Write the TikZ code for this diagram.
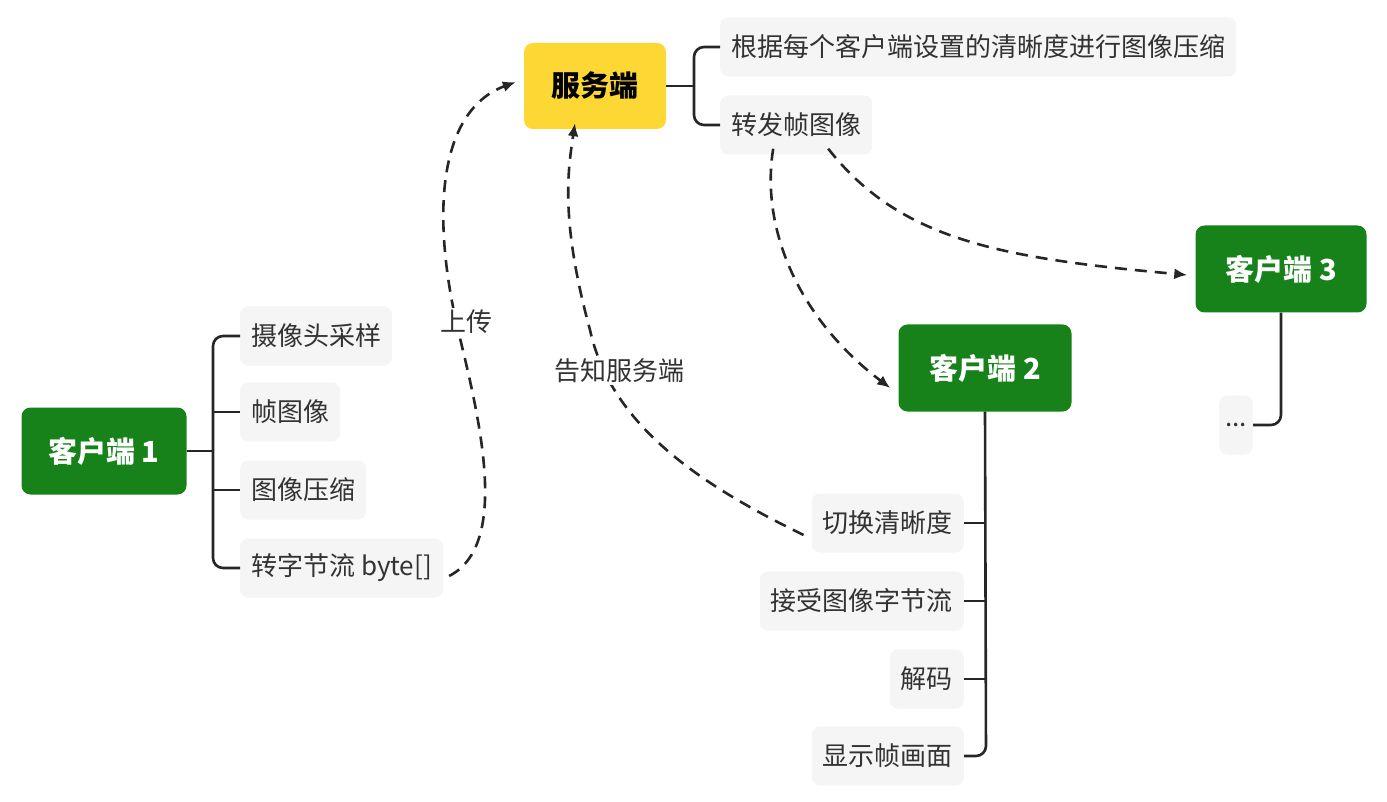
\documentclass[tikz,border=0pt]{standalone}
\usepackage{fontspec}
\setmainfont{Noto Sans CJK SC}
\usetikzlibrary{positioning, arrows.meta, shapes.geometric}
\definecolor{cgreen}{HTML}{17821A}
\definecolor{cyellow}{HTML}{FDD835}
\definecolor{cleaf}{HTML}{F5F5F5}
\definecolor{ctext}{HTML}{333333}
\begin{document}
\begin{tikzpicture}[
    x=1pt, y=-1pt,
    client/.style={rectangle, rounded corners=9pt, fill=cgreen, text=white, font=\fontsize{29}{34}\selectfont\bfseries, minimum width=#1, minimum height=87pt},
    server/.style={rectangle, rounded corners=9pt, fill=cyellow, text=black, font=\fontsize{29}{34}\selectfont\bfseries, minimum width=142pt, minimum height=86pt},
    leaf/.style={rectangle, rounded corners=8pt, fill=cleaf, text=ctext, font=\fontsize{26}{30}\selectfont, minimum height=59pt, inner xsep=11pt},
    branch/.style={line width=2.6pt, draw=black!85, rounded corners=10pt},
    flow/.style={line width=2.6pt, draw=black!85, dashed, dash pattern=on 12pt off 8pt, -{Latex[length=13pt,width=11pt]}},
    note/.style={text=ctext, font=\fontsize{26}{30}\selectfont}
]
\useasboundingbox (0,0) rectangle (1387,802);

% Clients and server
\node[client=165pt] (c1) at (104,451) {客户端 1};
\node[server] (srv) at (595,86) {服务端};
\node[client=173pt] (c2) at (985,368) {客户端 2};
\node[client=171pt] (c3) at (1281,269) {客户端 3};

% Client 1 steps
\node[leaf, anchor=west] (cam) at (240,336) {摄像头采样};
\node[leaf, anchor=west] (frm) at (240,412) {帧图像};
\node[leaf, anchor=west] (cmp) at (240,490) {图像压缩};
\node[leaf, anchor=west] (byt) at (240,568) {转字节流 byte[]};

% Server steps
\node[leaf, anchor=west] (res) at (720,47) {根据每个客户端设置的清晰度进行图像压缩};
\node[leaf, anchor=west] (fwd) at (720,125) {转发帧图像};

% Client 2 steps
\node[leaf, anchor=east] (sw) at (964,523) {切换清晰度};
\node[leaf, anchor=east] (rcv) at (964,601) {接受图像字节流};
\node[leaf, anchor=east] (dec) at (964,679) {解码};
\node[leaf, anchor=east] (shw) at (964,756) {显示帧画面};

% Client 3 steps
\node[leaf, anchor=center, inner xsep=6pt] (etc) at (1236,425) {...};

% Brackets
\draw[branch] (c1.east) -- (213,451);
\draw[branch] (cam.west) -- (213,336) -- (213,568) -- (byt.west);
\draw[branch] (frm.west) -- (213,412);
\draw[branch] (cmp.west) -- (213,490);
\draw[branch] (srv.east) -- (694,86);
\draw[branch] (res.west) -- (694,47) -- (694,125) -- (fwd.west);
\draw[branch] (c2.south) -- (986,756) -- (shw.east);
\draw[branch] (sw.east) -- (986,523);
\draw[branch] (rcv.east) -- (986,601);
\draw[branch] (dec.east) -- (986,679);
\draw[branch] (c3.south) -- (1281,425) -- (etc.east);

% Flows
\draw[flow] ([xshift=6pt,yshift=-8pt]byt.east) .. controls (510,545) and (480,420) .. (458,330)
    .. controls (430,210) and (440,110) .. ([xshift=-8pt,yshift=4pt]srv.west);
\node[note, fill=white, inner sep=2pt] (up) at (466,322) {上传};
\draw[flow] ([xshift=-8pt,yshift=-12pt]sw.west) .. controls (690,480) and (610,420) .. (590,330)
    .. controls (560,220) and (568,170) .. ([xshift=-20pt,yshift=6pt]srv.south);
\node[note, fill=white, inner sep=2pt] (tell) at (619,371) {告知服务端};
\draw[flow] ([xshift=-23pt,yshift=6pt]fwd.south) .. controls (760,230) and (800,320) .. ([xshift=-8pt,yshift=-20pt]c2.west);
\draw[flow] ([xshift=32pt,yshift=6pt]fwd.south) .. controls (900,240) and (1000,258) .. ([xshift=-8pt,yshift=-6pt]c3.west);
\end{tikzpicture}
\end{document}
